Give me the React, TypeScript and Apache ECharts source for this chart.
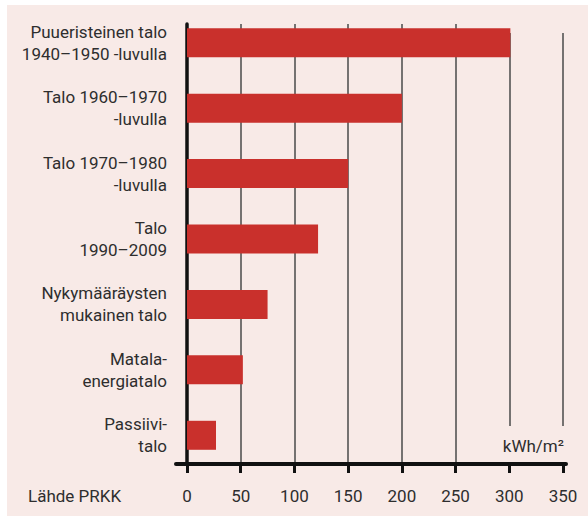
import React, { useEffect, useRef } from "react";
import * as echarts from "echarts";

const categories = [
  "Puueristeinen talo\n1940–1950 -luvulla",
  "Talo 1960–1970\n-luvulla",
  "Talo 1970–1980\n-luvulla",
  "Talo\n1990–2009",
  "Nykymääräysten\nmukainen talo",
  "Matala-\nenergiatalo",
  "Passiivi-\ntalo",
];
const values = [301, 200, 150, 122, 75, 52, 27];
const axisMin = 0;
const axisMax = 350;
const axisStep = 50;
const unitLabel = "kWh/m²";
const sourceLabel = "Lähde PRKK";

const FONT = "Roboto, 'DejaVu Sans Condensed', sans-serif";
const FS = 17;
const TEXT = "#2e2e2e";
const T = "rgba(0,0,0,0)";
const G = "#4a4a4a";

export default function App() {
  const ref = useRef<HTMLDivElement>(null);
  useEffect(() => {
    if (!ref.current) return;
    const chart = echarts.init(ref.current, undefined, { renderer: "svg" });
    const hiddenY = { type: "value", show: false };
    chart.setOption({
      animation: false,
      backgroundColor: "transparent",
      grid: [
        { left: 187, width: 376, top: 10, height: 458, outerBoundsMode: "none", containLabel: false },
        { left: 187, width: 376, top: 24, height: 440, outerBoundsMode: "none", containLabel: false },
        { left: 187, width: 376, top: 33, height: 393, outerBoundsMode: "none", containLabel: false },
        { left: 176, width: 390, top: 24, height: 440, outerBoundsMode: "none", containLabel: false },
      ],
      xAxis: [
        { gridIndex: 0, type: "value", min: axisMin, max: axisMax, show: false },
        {
          gridIndex: 1,
          type: "value",
          min: axisMin,
          max: axisMax,
          interval: axisStep,
          axisLine: { show: false, onZero: false },
          axisTick: { show: true, length: 9, lineStyle: { color: "#111", width: 3 } },
          axisLabel: { margin: 23, fontSize: FS, color: TEXT, fontFamily: FONT },
          splitLine: { show: true, lineStyle: { color: [T, G, G, G, G, G, T, T], width: 1.5 } },
        },
        {
          gridIndex: 2,
          type: "value",
          min: axisMin,
          max: axisMax,
          interval: axisStep,
          axisLine: { show: false, onZero: false },
          axisTick: { show: false },
          axisLabel: { show: false },
          splitLine: { show: true, lineStyle: { color: [T, T, T, T, T, T, G, G], width: 1.5 } },
        },
        {
          gridIndex: 3,
          type: "value",
          min: 0,
          max: 1,
          axisLine: { show: true, onZero: false, lineStyle: { color: "#111", width: 4 } },
          axisTick: { show: false },
          axisLabel: { show: false },
          splitLine: { show: false },
        },
      ],
      yAxis: [
        {
          gridIndex: 0,
          type: "category",
          data: categories,
          inverse: true,
          axisLine: { show: false },
          axisTick: { show: false },
          axisLabel: {
            margin: 20,
            fontSize: FS,
            lineHeight: 22,
            color: TEXT,
            fontFamily: FONT,
            align: "right",
          },
        },
        {
          gridIndex: 1,
          type: "value",
          min: 0,
          max: 1,
          axisLine: { show: true, onZero: false, lineStyle: { color: "#111", width: 3.5 } },
          axisTick: { show: false },
          axisLabel: { show: false },
          splitLine: { show: false },
        },
        { ...hiddenY, gridIndex: 2 },
        { ...hiddenY, gridIndex: 3 },
      ],
      graphic: [
        {
          type: "text",
          left: 28,
          top: 487,
          style: { text: sourceLabel, fontSize: FS, fill: TEXT, fontFamily: FONT },
        },
        {
          type: "text",
          right: 24,
          top: 437,
          style: { text: unitLabel, fontSize: FS, fill: TEXT, fontFamily: FONT },
        },
      ],
      series: [
        {
          type: "bar",
          xAxisIndex: 0,
          yAxisIndex: 0,
          data: values,
          barWidth: 29,
          itemStyle: { color: "#c9302c" },
          z: 3,
        },
      ],
    });
    return () => chart.dispose();
  }, []);

  return (
    <div style={{ position: "fixed", left: 0, top: 0, width: 588, height: 517, background: "#ffffff" }}>
      <div style={{ position: "absolute", left: 7, top: 5, right: 0, bottom: 1, background: "#f8eae7" }} />
      <div ref={ref} style={{ position: "absolute", left: 0, top: 0, width: 588, height: 517 }} />
    </div>
  );
}
